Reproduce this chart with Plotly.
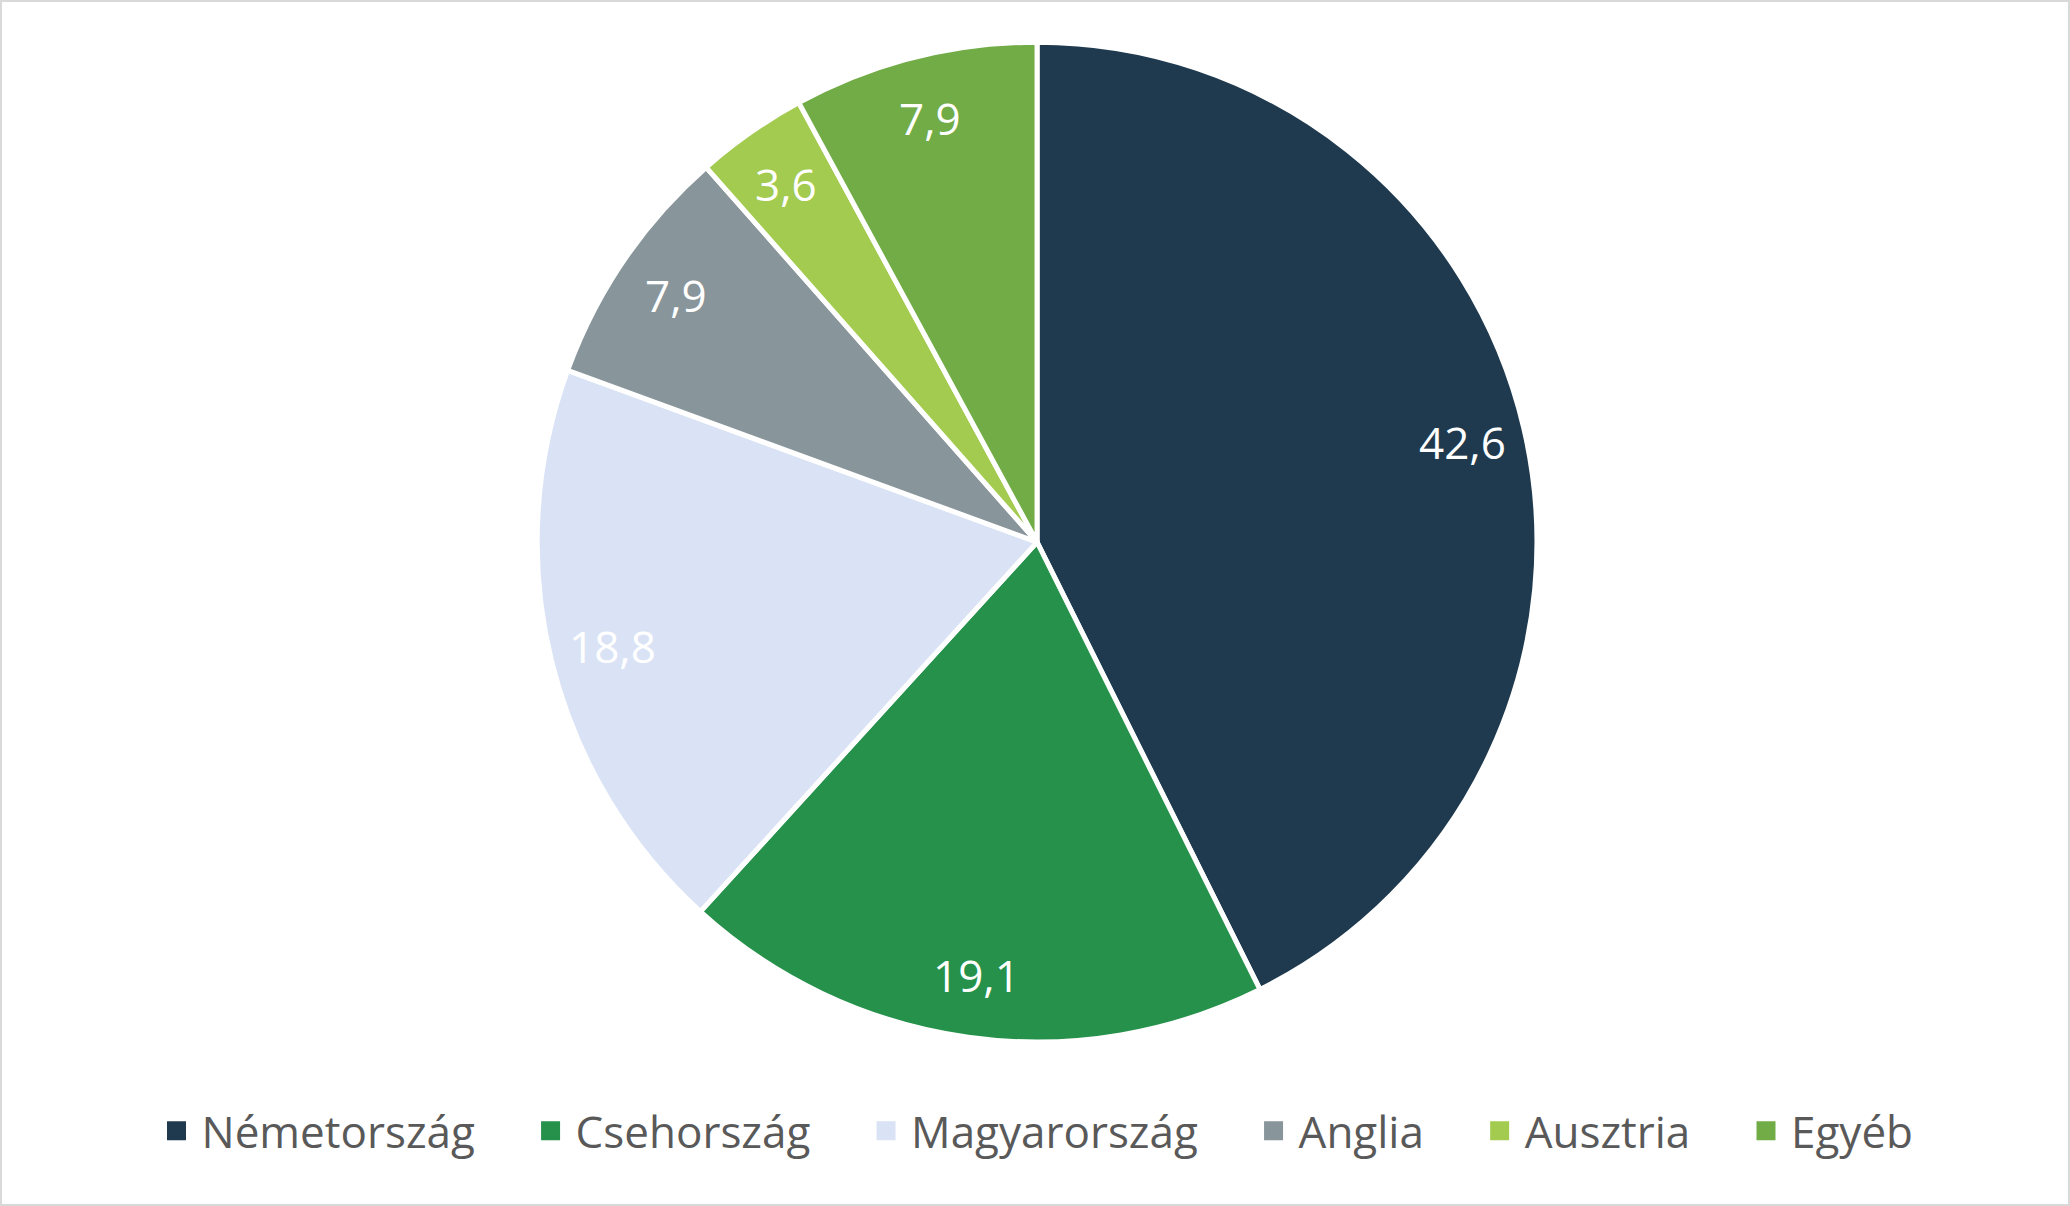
import numpy as np
import plotly.graph_objects as go

# --- data ---
countries = ["Németország", "Csehország", "Magyarország", "Anglia", "Ausztria", "Egyéb"]
shares = [42.6, 19.1, 18.8, 7.9, 3.6, 7.9]
slice_colors = ["#1F3A4E", "#25914A", "#DAE3F5", "#88959A", "#A2CB4F", "#71AC47"]

W, H = 2070, 1206
dom_x = [0.002, 1]
dom_y = [0.136, 0.965]

fig = go.Figure()

fig.add_trace(go.Pie(
    labels=countries, values=shares, sort=False, direction="clockwise", rotation=0,
    marker=dict(colors=slice_colors, line=dict(color="white", width=5)),
    textinfo="none", hoverinfo="label+value", showlegend=False,
    domain=dict(x=dom_x, y=dom_y),
))

# legend entries as square markers (pie legend squares are too small)
# trailing no-break spaces widen the gap between entries like the original
for i, (name, col) in enumerate(zip(countries, slice_colors)):
    pad = "" if i == len(countries) - 1 else "\u00a0" * 4
    fig.add_trace(go.Scatter(
        x=[None], y=[None], mode="markers", name=name + pad,
        marker=dict(symbol="square", size=16, color=col, line=dict(color=col, width=3)),
    ))

# data labels placed near the outer edge along each slice's mid-angle
vals = np.array(shares)
frac = vals / vals.sum()
mid = (np.cumsum(frac) - frac / 2) * 2 * np.pi
cx, cy = np.mean(dom_x) * W, (1 - np.mean(dom_y)) * H
R = (dom_y[1] - dom_y[0]) * H / 2
r_lab = 0.875 * R
for v, a in zip(shares, mid):
    px = cx + r_lab * np.sin(a)
    py = cy - r_lab * np.cos(a)
    fig.add_annotation(
        x=px / W, y=1 - py / H, xref="paper", yref="paper",
        xanchor="center", yanchor="middle",
        text=f"{v:.1f}".replace(".", ","), showarrow=False,
        font=dict(family="Open Sans", size=44, color="white"),
    )

fig.update_layout(
    width=W, height=H,
    margin=dict(l=0, r=0, t=0, b=0),
    paper_bgcolor="white", plot_bgcolor="white",
    xaxis=dict(visible=False), yaxis=dict(visible=False),
    legend=dict(
        orientation="h", x=0.5, xanchor="center", y=0.062, yanchor="middle",
        font=dict(family="Open Sans", size=44, color="#595959"),
        itemwidth=40, itemclick=False, itemdoubleclick=False,
    ),
    shapes=[dict(type="rect", xref="paper", yref="paper", x0=0, y0=0, x1=1, y1=1,
                 line=dict(color="#D9D9D9", width=4))],
)

fig.write_html("out.html", config={"displayModeBar": False},
               post_script="document.body.style.margin='0';")
